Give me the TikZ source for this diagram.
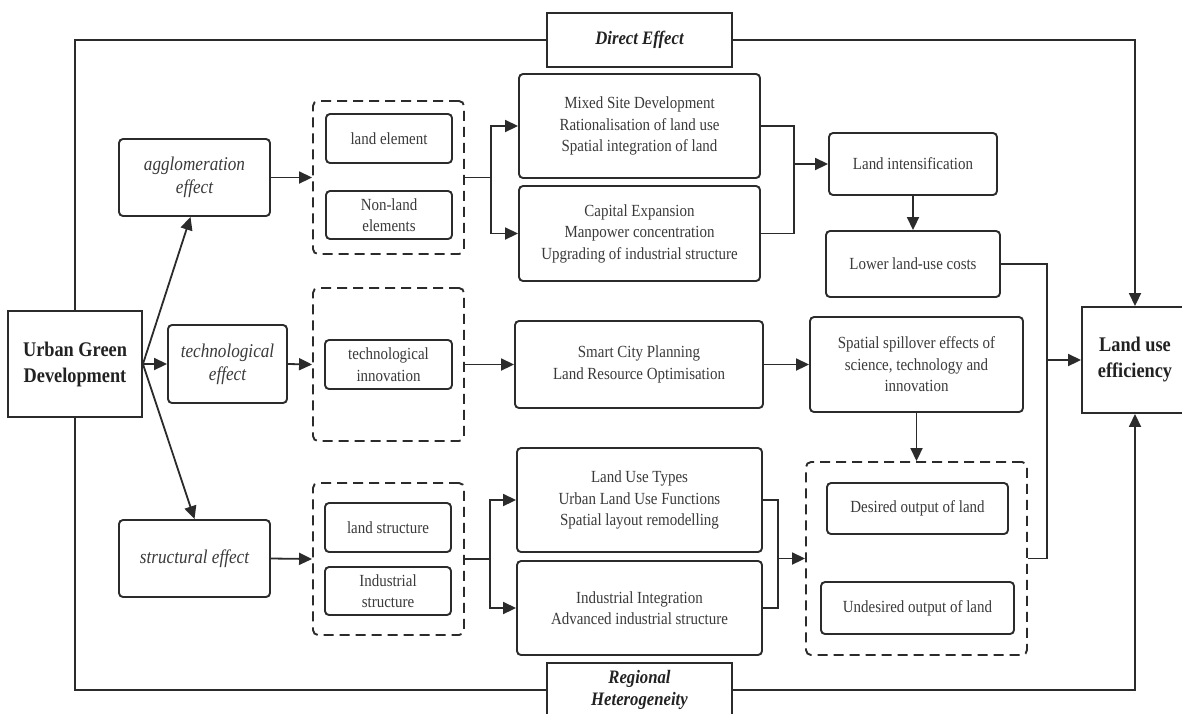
\documentclass[tikz,border=0pt]{standalone}
\usepackage{fontspec}
\setmainfont{Liberation Serif}[FakeStretch=0.88]
\usetikzlibrary{arrows.meta}
\definecolor{ln}{HTML}{2B2B2B}
\definecolor{tx}{HTML}{3A3A3A}
\definecolor{tb}{HTML}{222222}
\begin{document}
\begin{tikzpicture}[x=1pt,y=-1pt,
  rbox/.style={draw=ln, line width=1.9pt, rounded corners=4pt, align=center, text=tx,
    font=\fontsize{17}{21.5}\selectfont, inner sep=2pt},
  ebox/.style={rbox, font=\fontsize{19.5}{23}\selectfont\itshape},
  sbox/.style={draw=ln, line width=1.9pt, align=center, text=tb, inner sep=2pt},
  bigtxt/.style={font=\fontsize{20.8}{26}\selectfont\bfseries},
  captxt/.style={font=\fontsize{19}{22}\selectfont\bfseries\itshape},
  dbox/.style={draw=ln, line width=1.9pt, rounded corners=5pt, dash pattern=on 10pt off 6pt},
  conn/.style={draw=ln, line width=1.8pt},
  arr/.style={conn, -{Triangle[length=13pt,width=12pt]}}
]
\useasboundingbox (0,0) rectangle (1182,713);
\clip (0,0) rectangle (1182,713);
\fill[white] (0,0) rectangle (1182,713);

% main boxes
\node[sbox, bigtxt, minimum width=134pt, minimum height=106pt] (ugd) at (75,364) {Urban Green\\Development};
\node[sbox, bigtxt, minimum width=106pt, minimum height=106pt] (lue) at (1135,360) {Land use\\efficiency};
\node[sbox, captxt, minimum width=185pt, minimum height=54pt] (de) at (639.5,40) {Direct Effect};
\node[sbox, captxt, minimum width=185pt, minimum height=54pt] (rh) at (639.5,690) {Regional\\Heterogeneity};

% effect boxes
\node[ebox, minimum width=151pt, minimum height=77pt] (aggl) at (194.5,177.5) {agglomeration\\effect};
\node[ebox, minimum width=119pt, minimum height=78pt] (tech) at (227.5,364) {technological\\effect};
\node[ebox, minimum width=151pt, minimum height=77pt] (struct) at (194.5,558.5) {structural effect};

% dashed groups
\node[dbox, minimum width=151pt, minimum height=153pt] (d1) at (388.5,177.5) {};
\node[dbox, minimum width=151pt, minimum height=153pt] (d2) at (388.5,364.5) {};
\node[dbox, minimum width=151pt, minimum height=152pt] (d4) at (388.5,559) {};
\node[dbox, minimum width=221pt, minimum height=193pt] (d3) at (916.5,558.5) {};

\node[rbox, minimum width=126pt, minimum height=49pt] (landel) at (389,138.5) {land element};
\node[rbox, minimum width=126pt, minimum height=48pt] (nonland) at (389,215) {Non-land\\elements};
\node[rbox, minimum width=127pt, minimum height=49pt] (techinn) at (388.5,364.5) {technological\\innovation};
\node[rbox, minimum width=126pt, minimum height=49pt] (landstr) at (388,527.5) {land structure};
\node[rbox, minimum width=126pt, minimum height=48pt] (indstr) at (388,591) {Industrial\\structure};

% middle column
\node[rbox, minimum width=241pt, minimum height=104pt] (mixed) at (639.5,126) {Mixed Site Development\\Rationalisation of land use\\Spatial integration of land};
\node[rbox, minimum width=241pt, minimum height=95pt] (capital) at (639.5,233.5) {Capital Expansion\\Manpower concentration\\Upgrading of industrial structure};
\node[rbox, minimum width=248pt, minimum height=87pt] (smart) at (639,364.5) {Smart City Planning\\Land Resource Optimisation};
\node[rbox, minimum width=245pt, minimum height=104pt] (lut) at (639.5,500) {Land Use Types\\Urban Land Use Functions\\Spatial layout remodelling};
\node[rbox, minimum width=245pt, minimum height=94pt] (indint) at (639.5,608) {Industrial Integration\\Advanced industrial structure};

% right column
\node[rbox, minimum width=168pt, minimum height=62pt] (landint) at (913,164) {Land intensification};
\node[rbox, minimum width=174pt, minimum height=66pt] (lower) at (913,264) {Lower land-use costs};
\node[rbox, minimum width=213pt, minimum height=95pt] (spill) at (916.5,364.5) {Spatial spillover effects of\\science, technology and\\innovation};
\node[rbox, minimum width=181pt, minimum height=51pt] (desired) at (917.5,508.5) {Desired output of land};
\node[rbox, minimum width=193pt, minimum height=52pt] (undesired) at (917.5,608) {Undesired output of land};

% frame connectors
\draw[conn] (ugd.north) |- (de.west);
\draw[arr] (de.east) -| (lue.north);
\draw[conn] (ugd.south) |- (rh.west);
\draw[arr] (rh.east) -| (lue.south);

% from UGD
\draw[arr] (ugd.east) -- ([xshift=-4pt]aggl.south);
\draw[arr] (ugd.east) -- (tech.west);
\draw[arr] (ugd.east) -- (struct.north);

\draw[arr] (aggl.east) -- (d1.west);
\draw[arr] (tech.east) -- (d2.west);
\draw[arr] (struct.east) -- (d4.west);

% branches
\coordinate (b1) at (491,177.5);
\draw[conn] (d1.east) -- (b1);
\draw[arr] (b1) |- (mixed.west);
\draw[arr] (b1) |- (capital.west);

\draw[arr] (d2.east) -- (smart.west);

\coordinate (b4) at (490,559);
\draw[conn] (d4.east) -- (b4);
\draw[arr] (b4) |- (lut.west);
\draw[arr] (b4) |- (indint.west);

% merges
\coordinate (m1) at (794,164);
\draw[conn] (mixed.east) -| (m1);
\draw[conn] (capital.east) -| (m1);
\draw[arr] (m1) -- (landint.west);
\draw[arr] (landint.south) -- (lower.north);

\draw[arr] (smart.east) -- (spill.west);
\draw[arr] (spill.south) -- (d3.north);

\coordinate (m3) at (778,558.5);
\draw[conn] (lut.east) -| (m3);
\draw[conn] (indint.east) -| (m3);
\draw[arr] (m3) -- (d3.west);

\coordinate (m5) at (1047,360);
\draw[conn] (lower.east) -| (m5);
\draw[conn] (d3.east) -| (m5);
\draw[arr] (m5) -- (lue.west);
\end{tikzpicture}
\end{document}
